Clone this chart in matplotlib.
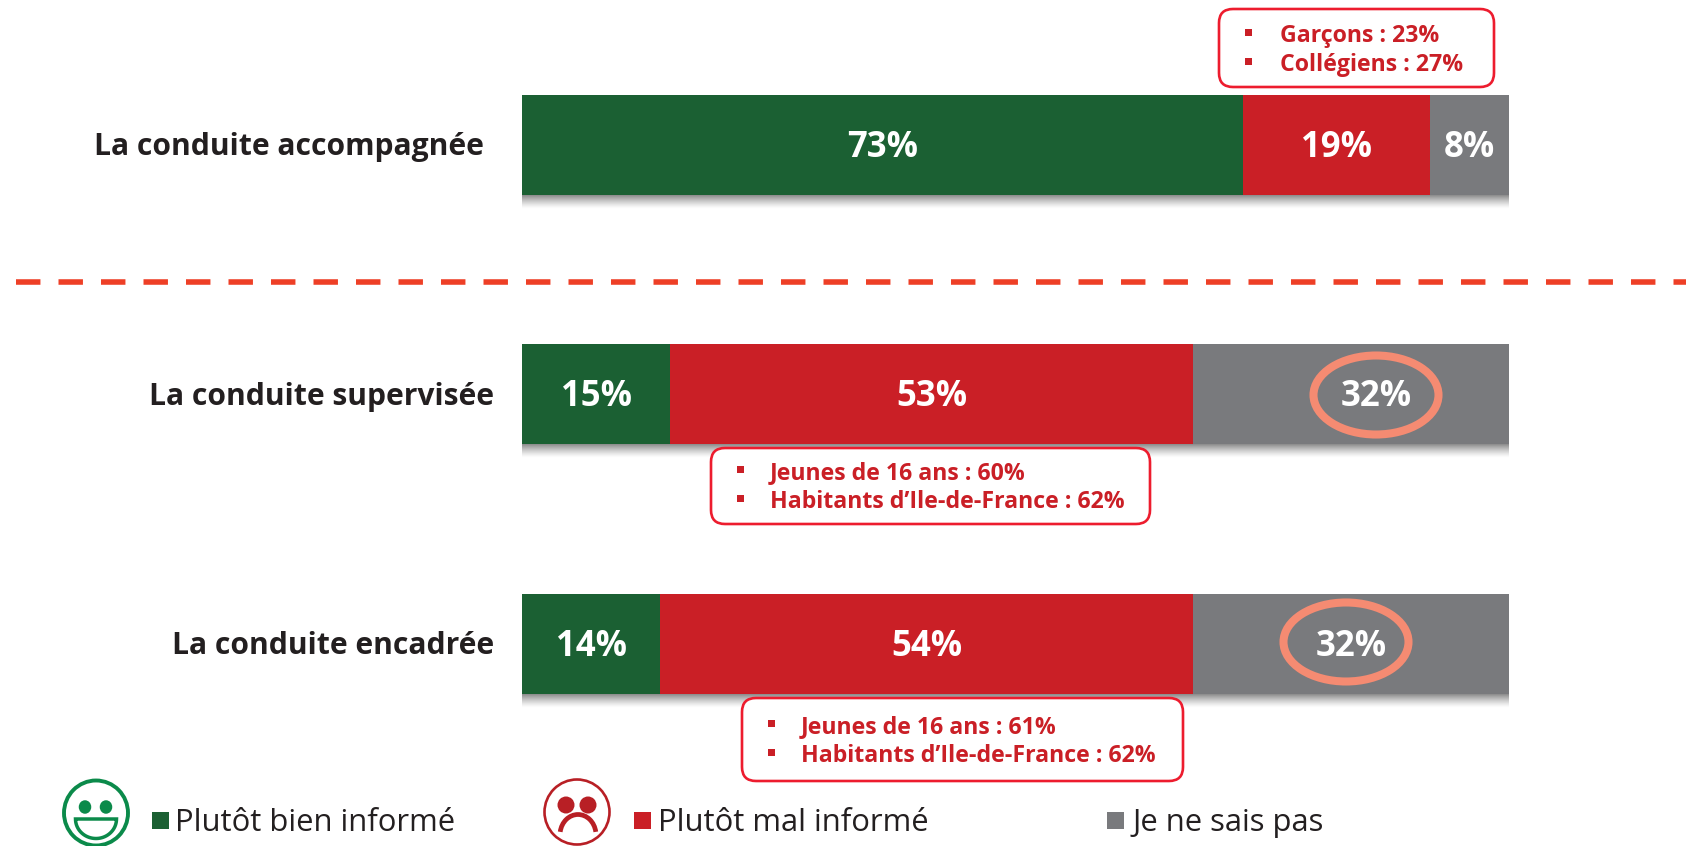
import numpy as np
import matplotlib
matplotlib.use("Agg")
import matplotlib.pyplot as plt
from matplotlib.patches import Ellipse, FancyBboxPatch, Rectangle, Polygon, Arc

plt.rcParams['font.family'] = ['Open Sans', 'DejaVu Sans']

categories = ["La conduite accompagnée", "La conduite supervisée", "La conduite encadrée"]
bien = [73, 15, 14]
mal = [19, 53, 54]
nsp = [8, 32, 32]
legend_labels = ["Plutôt bien informé", "Plutôt mal informé", "Je ne sais pas"]
callouts = [["Garçons : 23%", "Collégiens : 27%"],
            ["Jeunes de 16 ans : 60%", "Habitants d’Ile-de-France : 62%"],
            ["Jeunes de 16 ans : 61%", "Habitants d’Ile-de-France : 62%"]]

GREEN, RED, GREY = "#1B6033", "#CA1F26", "#797A7D"
DARK = "#231F20"
W, H = 1686, 846
fig = plt.figure(figsize=(W / 100, H / 100), dpi=100, facecolor="white")

BL, BR = 522, 1509
ax = fig.add_axes([BL / W, 0, (BR - BL) / W, 1])
ax.set_xlim(0, 100)
ax.set_ylim(H, 0)
ax.axis("off")
row_y = [145, 394.5, 644.5]
bar_h = 100

ov = fig.add_axes([0, 0, 1, 1], zorder=3)
ov.patch.set_alpha(0)
ov.axis("off")

grad = np.zeros((24, 2, 4))
grad[..., :3] = 0.35
grad[..., 3] = np.linspace(0.75, 0, 24)[:, None] ** 1.3
for y in row_y:
    ov.imshow(grad, extent=(BL, BR, y + bar_h / 2 + 14, y + bar_h / 2), aspect="auto", zorder=1)
ov.set_xlim(0, W)
ov.set_ylim(H, 0)

for i, y in enumerate(row_y):
    lefts = 0
    for vals, c in ((bien, GREEN), (mal, RED), (nsp, GREY)):
        v = vals[i]
        ax.barh(y, v, left=lefts, height=bar_h, color=c, linewidth=0)
        dx = 2.5 if (i == 1 and vals is nsp) else 0
        ov_x = BL + (lefts + v / 2 + dx) / 100 * (BR - BL)
        ov.text(ov_x, y + 3, f"{v}%", color="white", fontsize=25, fontweight="bold",
                ha="center", va="center", zorder=6)
        lefts += v

label_right = [484, 494, 494]
for txt, y, xr in zip(categories, row_y, label_right):
    ov.text(xr, y + 2, txt, color=DARK, fontsize=21.6, fontweight="bold", ha="right", va="center")

ov.plot([16, W], [282, 282], color="#EE3F26", lw=4.0, dashes=(4.4, 3.25), dash_capstyle="butt", zorder=2)

for cx, cy in ((1376, 395), (1346, 642)):
    ov.add_patch(Ellipse((cx, cy), 125, 79, fc="none", ec="#F58B72", lw=5.8, zorder=5))

boxes = [(1219, 9, 1494, 87), (711, 448, 1150, 524), (742, 698, 1183, 781)]
bullets_x = [1248, 740, 771]
text_x = [1280, 770, 801]
lines_y = [(36, 65), (473, 502), (727, 756)]
for (x0, y0, x1, y1), bx, tx, ly, lines in zip(boxes, bullets_x, text_x, lines_y, callouts):
    ov.add_patch(FancyBboxPatch((x0 + 14, y0 + 14), x1 - x0 - 28, y1 - y0 - 28,
                                boxstyle="round,pad=14,rounding_size=14", fc="white",
                                ec="#ED1C2E", lw=1.9, zorder=4))
    for yy, s in zip(ly, lines):
        ov.add_patch(Rectangle((bx - 3.5, yy - 7), 7, 7, fc=RED, ec="none", zorder=5))
        ov.text(tx, yy, s, color=RED, fontsize=16.65, fontweight="bold", ha="left", va="center", zorder=5)

leg_sq = [(152, 812, GREEN), (634, 812, RED), (1107, 812, GREY)]
leg_tx = [175, 658, 1132]
for (sx, sy, c), tx, s in zip(leg_sq, leg_tx, legend_labels):
    ov.add_patch(Rectangle((sx, sy), 17, 17, fc=c, ec="none"))
    ov.text(tx, 823, s, color=DARK, fontsize=22.3, ha="left", va="center")

G = "#0B8A4A"
ov.add_patch(Ellipse((96, 813), 64, 65, fc="white", ec=G, lw=2.8))
for ex in (85, 106):
    ov.add_patch(Ellipse((ex, 807), 12.5, 13.5, fc=G, ec="none"))
t = np.linspace(0, np.pi, 40)
mouth_x = 96 + 20.5 * np.cos(t)
mouth_y = 819 + 19.5 * np.sin(t)
ov.add_patch(Polygon(np.c_[mouth_x, mouth_y], closed=True, fc="white", ec=G, lw=2.5))

R2 = "#B81F25"
ov.add_patch(Ellipse((577, 812), 65, 65, fc="white", ec=R2, lw=1.9))
for ex in (566, 588):
    ov.add_patch(Ellipse((ex, 805), 17, 17, fc=R2, ec="none"))
ov.add_patch(Arc((578, 835), 36, 41, theta1=190, theta2=350, ec=R2, lw=3.4))

fig.savefig("out.png", dpi=100, facecolor="white")
